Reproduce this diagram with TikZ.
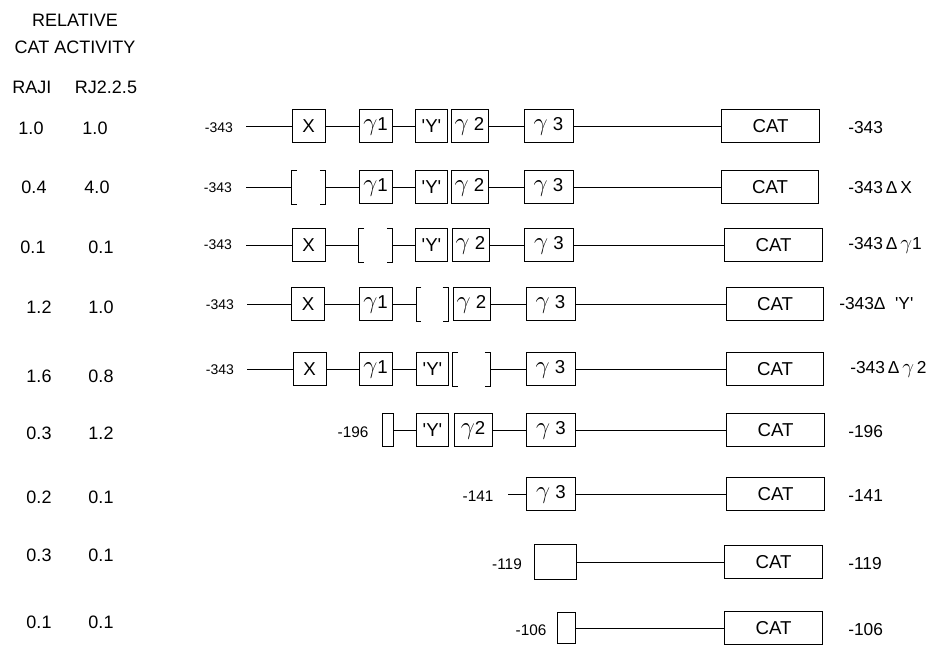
\documentclass[tikz,border=0pt]{standalone}
\usepackage{fontspec}
\setmainfont{Liberation Sans}
\newcommand\gam{\raisebox{0pt}{\scalebox{1.3}{\ensuremath{\gamma}}}}
\newcommand\drawbrk[1]{%
  \draw[ln] ([xshift=4pt]#1.north west) -| (#1.south west) -- ++(5.3,0);
  \draw[ln] ([xshift=-4pt]#1.north east) -| (#1.south east) -- ++(-5.3,0);}
\begin{document}
\begin{tikzpicture}[x=0.75pt,y=-0.75pt,
  ln/.style={line width=0.6pt},
  bx/.style={draw, line width=0.6pt, inner sep=0pt, minimum height=25pt, font=\fontsize{14}{16}\selectfont},
  bk/.style={inner sep=0pt, minimum height=25pt},
  wX/.style={minimum width=24.75pt},
  wY/.style={minimum width=23.5pt},
  wG/.style={minimum width=27.75pt},
  wT/.style={minimum width=36.75pt},
  wC/.style={minimum width=73pt, font=\fontsize{14}{16}\selectfont},
  lab/.style={font=\fontsize{13.5}{15}\selectfont, inner sep=0pt},
  rlab/.style={font=\fontsize{13}{15}\selectfont, inner sep=0pt, anchor=west},
  slab/.style={font=\fontsize{10.5}{12}\selectfont, inner sep=0pt},
  mlab/.style={font=\fontsize{11.5}{13}\selectfont, inner sep=0pt},
]
\useasboundingbox (0,0) rectangle (929,644);

% header
\node[lab] (h1) at (75,20) {RELATIVE};
\node[lab] (h2) at (75,47) {CAT ACTIVITY};
\node[lab] (h3) at (32,87) {RAJI};
\node[lab] (h4) at (106,87) {RJ2.2.5};

% activity values
\node[lab] (a1) at (31,128) {1.0};  \node[lab] (b1) at (95,128) {1.0};
\node[lab] (a2) at (34,187) {0.4};  \node[lab] (b2) at (97,187) {4.0};
\node[lab] (a3) at (33,247) {0.1};  \node[lab] (b3) at (101,247) {0.1};
\node[lab] (a4) at (39,307) {1.2};  \node[lab] (b4) at (101,307) {1.0};
\node[lab] (a5) at (39,376) {1.6};  \node[lab] (b5) at (101,376) {0.8};
\node[lab] (a6) at (39,433) {0.3};  \node[lab] (b6) at (101,433) {1.2};
\node[lab] (a7) at (39,497) {0.2};  \node[lab] (b7) at (101,497) {0.1};
\node[lab] (a8) at (39,555) {0.3};  \node[lab] (b8) at (101,555) {0.1};
\node[lab] (a9) at (39,622) {0.1};  \node[lab] (b9) at (101,622) {0.1};

% Row 1
\node[slab] (l1) at (219,128) {-343};
\coordinate (s1) at (246,126);
\node[bx,wX] (x1) at (308.5,126) {X};
\node[bx,wX] (g11) at (375.5,126) {\gam 1};
\node[bx,wY] (y1) at (431.5,126) {\textquotesingle Y\textquotesingle};
\node[bx,wG] (g21) at (469.5,126) {\gam\ 2};
\node[bx,wT] (g31) at (548.5,126) {\gam\ 3};
\node[bx,wC] (c1) at (770.5,126) {CAT};
\node[rlab] (r1) at (848,128) {-343};
\draw[ln] (s1) -- (x1); \draw[ln] (x1) -- (g11); \draw[ln] (g11) -- (y1);
\draw[ln] (g21) -- (g31); \draw[ln] (g31) -- (c1);

% Row 2
\node[slab] (l2) at (218,188) {-343};
\coordinate (s2) at (246,187);
\node[bk,wX] (x2) at (308.5,187) {};
\drawbrk{x2}
\node[bx,wX] (g12) at (375.5,187) {\gam 1};
\node[bx,wY] (y2) at (431.5,187) {\textquotesingle Y\textquotesingle};
\node[bx,wG] (g22) at (469.5,187) {\gam\ 2};
\node[bx,wT] (g32) at (548.5,187) {\gam\ 3};
\node[bx,wC] (c2) at (770,187) {CAT};
\node[rlab] (r2) at (848,188) {-343\,Δ\,X};
\draw[ln] (s2) -- (x2); \draw[ln] (x2) -- (g12); \draw[ln] (g12) -- (y2);
\draw[ln] (g22) -- (g32); \draw[ln] (g32) -- (c2);

% Row 3
\node[slab] (l3) at (218,245) {-343};
\coordinate (s3) at (246,245);
\node[bx,wX] (x3) at (308.5,245) {X};
\node[bk,wX] (g13) at (375.5,245) {};
\drawbrk{g13}
\node[bx,wY] (y3) at (431.5,245) {\textquotesingle Y\textquotesingle};
\node[bx,wG] (g23) at (470.5,245) {\gam\ 2};
\node[bx,wT] (g33) at (549,245) {\gam\ 3};
\node[bx,wC] (c3) at (773.5,245) {CAT};
\node[rlab] (r3) at (848,245) {-343\,Δ\,\gam 1};
\draw[ln] (s3) -- (x3); \draw[ln] (x3) -- (g13); \draw[ln] (g13) -- (y3);
\draw[ln] (g23) -- (g33); \draw[ln] (g33) -- (c3);

% Row 4
\node[slab] (l4) at (220,305) {-343};
\coordinate (s4) at (247,304);
\node[bx,wX] (x4) at (308,304) {X};
\node[bx,wX] (g14) at (375.5,304) {\gam 1};
\node[bk,wY] (y4) at (432,304) {};
\drawbrk{y4}
\node[bx,wG] (g24) at (471.5,304) {\gam\ 2};
\node[bx,wT] (g34) at (550.5,304) {\gam\ 3};
\node[bx,wC] (c4) at (775,304) {CAT};
\node[rlab] (r4) at (839,304) {-343Δ\ \ \textquotesingle Y\textquotesingle};
\draw[ln] (s4) -- (x4); \draw[ln] (x4) -- (g14); \draw[ln] (g14) -- (y4);
\draw[ln] (g24) -- (g34); \draw[ln] (g34) -- (c4);

% Row 5
\node[slab] (l5) at (220,370) {-343};
\coordinate (s5) at (247,369);
\node[bx,wX] (x5) at (309.5,369) {X};
\node[bx,wX] (g15) at (375.5,369) {\gam 1};
\node[bx,wY] (y5) at (432.5,369) {\textquotesingle Y\textquotesingle};
\node[bk,wG] (g25) at (471.5,369) {};
\drawbrk{g25}
\node[bx,wT] (g35) at (550.5,369) {\gam\ 3};
\node[bx,wC] (c5) at (775,369) {CAT};
\node[rlab] (r5) at (850,369) {-343\,Δ\,\gam\,2};
\draw[ln] (s5) -- (x5); \draw[ln] (x5) -- (g15); \draw[ln] (g15) -- (y5);
\draw[ln] (g25) -- (g35); \draw[ln] (g35) -- (c5);

% Row 6
\node[mlab] (l6) at (353,432) {-196};
\node[bx,minimum width=8.25pt] (p6) at (387.5,430) {};
\node[bx,wY] (y6) at (432.5,430) {\textquotesingle Y\textquotesingle};
\node[bx,minimum width=28.5pt] (g26) at (473,430) {\gam 2};
\node[bx,wT] (g36) at (551,430) {\gam\ 3};
\node[bx,wC] (c6) at (775.5,430) {CAT};
\node[rlab] (r6) at (848,432) {-196};
\draw[ln] (p6) -- (y6); \draw[ln] (g26) -- (g36); \draw[ln] (g36) -- (c6);

% Row 7
\node[mlab] (l7) at (478,496) {-141};
\coordinate (s7) at (508,494);
\node[bx,wT] (g37) at (551,494) {\gam\ 3};
\node[bx,wC] (c7) at (775.5,494) {CAT};
\node[rlab] (r7) at (848,496) {-141};
\draw[ln] (s7) -- (g37); \draw[ln] (g37) -- (c7);

% Row 8
\node[mlab] (l8) at (507,564) {-119};
\node[bx,minimum width=31.5pt, minimum height=26pt] (p8) at (555,562) {};
\node[bx,wC] (c8) at (773.5,562) {CAT};
\node[rlab] (r8) at (848,564) {-119};
\draw[ln] (p8) -- (c8);

% Row 9
\node[mlab] (l9) at (531,630) {-106};
\node[bx,minimum width=13.5pt, minimum height=23pt] (p9) at (566,628) {};
\node[bx,wC] (c9) at (773.5,628) {CAT};
\node[rlab] (r9) at (848,630) {-106};
\draw[ln] (p9) -- (c9);
\end{tikzpicture}
\end{document}
